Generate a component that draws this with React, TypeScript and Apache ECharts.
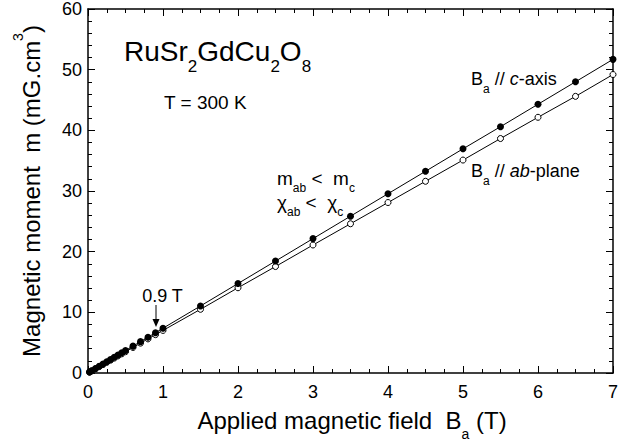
import React, { useEffect, useRef } from "react";
import * as echarts from "echarts";

const fieldT = [0.02, 0.05, 0.1, 0.15, 0.2, 0.25, 0.3, 0.35, 0.4, 0.45, 0.5, 0.6, 0.7, 0.8, 0.9, 1, 1.5, 2, 2.5, 3, 3.5, 4, 4.5, 5, 5.5, 6, 6.5, 7];
const momentC = [0.15, 0.37, 0.74, 1.11, 1.48, 1.85, 2.22, 2.59, 2.96, 3.33, 3.7, 4.43, 5.17, 5.9, 6.64, 7.38, 11.05, 14.75, 18.45, 22.15, 25.85, 29.55, 33.25, 36.95, 40.6, 44.3, 48.0, 51.7];
const momentAB = [0.14, 0.35, 0.7, 1.05, 1.4, 1.76, 2.11, 2.46, 2.81, 3.16, 3.51, 4.21, 4.92, 5.62, 6.32, 7.02, 10.5, 14.05, 17.55, 21.1, 24.6, 28.1, 31.6, 35.1, 38.65, 42.15, 45.6, 49.2];
const xRange = [0, 7];
const yRange = [0, 60];

const FF = "'Liberation Sans', Arial, sans-serif";

function tok(size: number, extra: any = {}) {
  return { fontSize: size, fontFamily: FF, fill: "#000", verticalAlign: "middle", ...extra };
}

export default function App() {
  const ref = useRef<HTMLDivElement>(null);
  useEffect(() => {
    if (!ref.current) return;
    const chart = echarts.init(ref.current, null, { renderer: "svg" });
    const axisCommon = {
      axisLine: { show: true, onZero: false, lineStyle: { color: "#000", width: 1.5 } },
      axisTick: { show: true, inside: true, length: 7, lineStyle: { color: "#000", width: 1 } },
      minorTick: { show: true, length: 4, lineStyle: { color: "#000", width: 1 } },
      splitLine: { show: false },
      minorSplitLine: { show: false },
    };
    const xBase = { type: "value", min: xRange[0], max: xRange[1], interval: 1, ...axisCommon, minorTick: { ...axisCommon.minorTick, splitNumber: 4 } };
    const yBase = { type: "value", min: yRange[0], max: yRange[1], interval: 10, ...axisCommon, minorTick: { ...axisCommon.minorTick, splitNumber: 5 } };
    const lbl = { fontSize: 18, fontFamily: FF, color: "#000" };
    chart.setOption({
      animation: false,
      grid: { left: 88, right: 21, top: 8, bottom: 69, containLabel: false },
      xAxis: [
        { ...xBase, position: "bottom", axisLabel: { ...lbl, margin: 10 } },
        { ...xBase, position: "top", axisLabel: { show: false } },
      ],
      yAxis: [
        { ...yBase, position: "left", axisLabel: { ...lbl, margin: 6 } },
        { ...yBase, position: "right", axisLabel: { show: false } },
      ],
      series: [
        {
          name: "ab-plane",
          type: "line",
          data: fieldT.map((x, i) => [x, momentAB[i]]),
          symbol: "circle",
          symbolSize: 6,
          showAllSymbol: true,
          lineStyle: { color: "#000", width: 1 },
          itemStyle: { color: "#fff", borderColor: "#000", borderWidth: 1 },
          z: 2,
        },
        {
          name: "c-axis",
          type: "line",
          data: fieldT.map((x, i) => [x, momentC[i]]),
          symbol: "circle",
          symbolSize: 7,
          showAllSymbol: true,
          lineStyle: { color: "#000", width: 1 },
          itemStyle: { color: "#000", borderColor: "#000", borderWidth: 0 },
          z: 3,
        },
      ],
      graphic: [
        {
          type: "text", x: 124, y: 51,
          style: {
            text: "{m|RuSr}{s|2}{m|GdCu}{s|2}{m|O}{s|8}",
            align: "left", verticalAlign: "middle",
            rich: { m: tok(28), s: tok(17, { padding: [31, 0, 0, 0] }) },
          },
        },
        {
          type: "text", x: 164, y: 102,
          style: { text: "T = 300 K", font: `19px ${FF}`, fill: "#000", align: "left", verticalAlign: "middle" },
        },
        {
          type: "text", x: 471, y: 79,
          style: {
            text: "{m|B}{s|a}{m| // }{i|c}{m|-axis}",
            align: "left", verticalAlign: "middle",
            rich: { m: tok(18), i: tok(18, { fontStyle: "italic" }), s: tok(12, { padding: [20, 0, 0, 0] }) },
          },
        },
        {
          type: "text", x: 471, y: 171,
          style: {
            text: "{m|B}{s|a}{m| // }{i|ab}{m|-plane}",
            align: "left", verticalAlign: "middle",
            rich: { m: tok(18), i: tok(18, { fontStyle: "italic" }), s: tok(12, { padding: [20, 0, 0, 0] }) },
          },
        },
        {
          type: "text", x: 277, y: 178,
          style: {
            text: "{m|m}{s|ab}{m| <  m}{s|c}",
            align: "left", verticalAlign: "middle",
            rich: { m: tok(19), s: tok(12, { padding: [19, 0, 0, 0] }) },
          },
        },
        {
          type: "text", x: 277, y: 202,
          style: {
            text: "{m|χ}{s|ab}{m| <  χ}{s|c}",
            align: "left", verticalAlign: "middle",
            rich: { m: tok(19), s: tok(12, { padding: [19, 0, 0, 0] }) },
          },
        },
        {
          type: "text", x: 162.5, y: 296,
          style: { text: "0.9 T", font: `18px ${FF}`, fill: "#000", align: "center", verticalAlign: "middle" },
        },
        { type: "line", shape: { x1: 156, y1: 305, x2: 156, y2: 321 }, style: { stroke: "#000", lineWidth: 1 } },
        { type: "polygon", shape: { points: [[152.5, 319], [159.5, 319], [156, 327]] }, style: { fill: "#000" } },
        {
          type: "text", x: 352, y: 420,
          style: {
            text: "{m|Applied magnetic field  B}{s|a}{m| (T)}",
            align: "center", verticalAlign: "middle",
            rich: { m: tok(24), s: tok(14, { padding: [27, 0, 0, 0] }) },
          },
        },
        {
          type: "text", x: 31.5, y: 191, rotation: Math.PI / 2,
          style: {
            text: "{m|Magnetic moment  m (mG.cm}{s|3}{m|)}",
            align: "center", verticalAlign: "middle",
            rich: { m: tok(24), s: tok(14, { padding: [0, 0, 27, 0] }) },
          },
        },
      ],
    });
    return () => chart.dispose();
  }, []);
  return <div ref={ref} style={{ width: 634, height: 442, position: "absolute", left: 0, top: 0, background: "#fff" }} />;
}
